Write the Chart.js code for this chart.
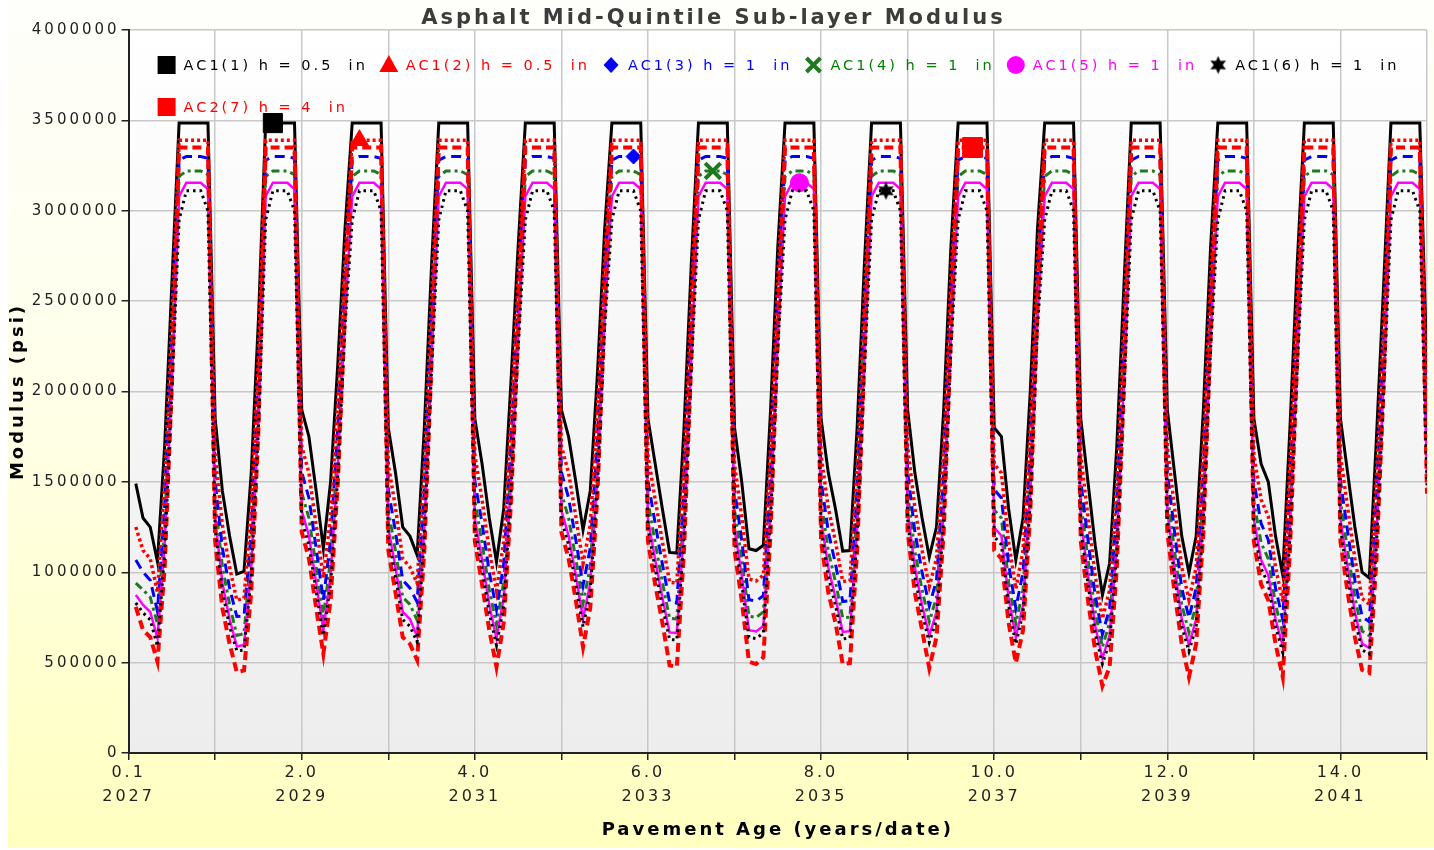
<!DOCTYPE html>
<html>
<head>
<meta charset="utf-8">
<script src="https://cdn.jsdelivr.net/npm/chart.js@4.4.1/dist/chart.umd.min.js"></script>
<style>
  html, body { margin: 0; padding: 0; background: #ffffff; }
  canvas { display: block; }
</style>
</head>
<body>
<canvas id="modulusChart" width="1434" height="850"></canvas>
<script>
// Pavement age in months (one value per month, month 1 .. month 180)
const months = [
  1,2,3,4,5,6,7,8,9,10,11,12,
  13,14,15,16,17,18,19,20,21,22,23,24,
  25,26,27,28,29,30,31,32,33,34,35,36,
  37,38,39,40,41,42,43,44,45,46,47,48,
  49,50,51,52,53,54,55,56,57,58,59,60,
  61,62,63,64,65,66,67,68,69,70,71,72,
  73,74,75,76,77,78,79,80,81,82,83,84,
  85,86,87,88,89,90,91,92,93,94,95,96,
  97,98,99,100,101,102,103,104,105,106,107,108,
  109,110,111,112,113,114,115,116,117,118,119,120,
  121,122,123,124,125,126,127,128,129,130,131,132,
  133,134,135,136,137,138,139,140,141,142,143,144,
  145,146,147,148,149,150,151,152,153,154,155,156,
  157,158,159,160,161,162,163,164,165,166,167,168,
  169,170,171,172,173,174,175,176,177,178,179,180
];

// Axis tick labels (every 24 months): age and calendar year
const ageTickLabels  = ['0.1', '2.0', '4.0', '6.0', '8.0', '10.0', '12.0', '14.0'];
const yearTickLabels = ['2027', '2029', '2031', '2033', '2035', '2037', '2039', '2041'];

const seriesLabels = [
  'AC1(1) h = 0.5  in',
  'AC1(2) h = 0.5  in',
  'AC1(3) h = 1  in',
  'AC1(4) h = 1  in',
  'AC1(5) h = 1  in',
  'AC1(6) h = 1  in',
  'AC2(7) h = 4  in'
];

// Sub-layer modulus (psi), monthly
const ac1_1 = [
  1490000,1300000,1250000,1058000,1700000,2600000,3485000,3485000,3485000,3485000,3485000,1850000,
  1450000,1200000,990000,1005000,1550000,2400000,3485000,3485000,3485000,3485000,3485000,1900000,
  1750000,1450000,1132000,1500000,2150000,2900000,3485000,3485000,3485000,3485000,3485000,1800000,
  1550000,1250000,1200000,1095000,1800000,2700000,3485000,3485000,3485000,3485000,3485000,1850000,
  1600000,1300000,1057000,1350000,2050000,2800000,3485000,3485000,3485000,3485000,3485000,1900000,
  1750000,1500000,1234000,1450000,2100000,2900000,3485000,3485000,3485000,3485000,3485000,1850000,
  1600000,1350000,1110000,1106000,1800000,2700000,3485000,3485000,3485000,3485000,3485000,1800000,
  1500000,1130000,1120000,1150000,1900000,2800000,3485000,3485000,3485000,3485000,3485000,1850000,
  1550000,1350000,1117000,1120000,1800000,2700000,3485000,3485000,3485000,3485000,3485000,1900000,
  1550000,1300000,1084000,1250000,1900000,2800000,3485000,3485000,3485000,3485000,3485000,1800000,
  1750000,1350000,1068000,1300000,2000000,2900000,3485000,3485000,3485000,3485000,3485000,1850000,
  1500000,1150000,874000,1050000,1700000,2600000,3485000,3485000,3485000,3485000,3485000,1900000,
  1550000,1200000,996000,1200000,1900000,2800000,3485000,3485000,3485000,3485000,3485000,1850000,
  1600000,1500000,1200000,985000,1800000,2700000,3485000,3485000,3485000,3485000,3485000,1850000,
  1550000,1250000,1000000,968000,1750000,2600000,3485000,3485000,3485000,3485000,3485000,2100000
];

const ac1_2 = [
  1250000,1121000,1075000,890000,1499000,2413000,3390000,3390000,3390000,3390000,3390000,1647000,
  1261000,1028000,845000,856000,1356000,2203000,3390000,3390000,3390000,3390000,3390000,1697000,
  1549000,1261000,970000,1308000,1946000,2735000,3390000,3390000,3390000,3390000,3390000,1598000,
  1356000,1075000,1028000,940000,1598000,2519000,3390000,3390000,3390000,3390000,3390000,1647000,
  1403000,1121000,898000,1168000,1845000,2626000,3390000,3390000,3390000,3390000,3390000,1697000,
  1549000,1308000,1049000,1261000,1896000,2735000,3390000,3390000,3390000,3390000,3390000,1647000,
  1403000,1168000,945000,940000,1598000,2519000,3390000,3390000,3390000,3390000,3390000,1598000,
  1308000,962000,952000,983000,1697000,2626000,3390000,3390000,3390000,3390000,3390000,1647000,
  1356000,1168000,949000,953000,1598000,2519000,3390000,3390000,3390000,3390000,3390000,1697000,
  1356000,1121000,921000,1075000,1697000,2626000,3390000,3390000,3390000,3390000,3390000,1598000,
  1549000,1168000,908000,1121000,1796000,2735000,3390000,3390000,3390000,3390000,3390000,1647000,
  1308000,983000,743000,901000,1499000,2413000,3390000,3390000,3390000,3390000,3390000,1697000,
  1356000,1028000,847000,1028000,1697000,2626000,3390000,3390000,3390000,3390000,3390000,1647000,
  1403000,1308000,1028000,837000,1598000,2519000,3390000,3390000,3390000,3390000,3390000,1647000,
  1356000,1075000,855000,823000,1549000,2413000,3390000,3390000,3390000,3390000,3390000,1896000
];

const ac1_3 = [
  1068000,1001000,956000,785000,1363000,2275000,3280000,3300000,3300000,3300000,3290000,1506000,
  1134000,913000,755000,758000,1225000,2062000,3280000,3300000,3300000,3300000,3290000,1554000,
  1411000,1134000,846000,1179000,1802000,2610000,3280000,3300000,3300000,3300000,3290000,1458000,
  1225000,956000,913000,835000,1458000,2384000,3280000,3300000,3300000,3300000,3290000,1506000,
  1270000,1001000,793000,1045000,1702000,2495000,3280000,3300000,3300000,3300000,3290000,1554000,
  1411000,1179000,926000,1134000,1754000,2610000,3280000,3300000,3300000,3300000,3290000,1506000,
  1270000,1045000,834000,830000,1458000,2384000,3280000,3300000,3300000,3300000,3290000,1458000,
  1179000,848000,840000,871000,1554000,2495000,3280000,3300000,3300000,3300000,3290000,1506000,
  1225000,1045000,838000,842000,1458000,2384000,3280000,3300000,3300000,3300000,3290000,1554000,
  1225000,1001000,813000,956000,1554000,2495000,3280000,3300000,3300000,3300000,3290000,1458000,
  1411000,1045000,801000,1001000,1652000,2610000,3280000,3300000,3300000,3300000,3290000,1506000,
  1179000,871000,656000,801000,1363000,2275000,3280000,3300000,3300000,3300000,3290000,1554000,
  1225000,913000,747000,913000,1554000,2495000,3280000,3300000,3300000,3300000,3290000,1506000,
  1270000,1179000,913000,739000,1458000,2384000,3280000,3300000,3300000,3300000,3290000,1506000,
  1225000,956000,755000,726000,1411000,2275000,3280000,3300000,3300000,3300000,3290000,1754000
];

const ac1_4 = [
  940000,903000,862000,715000,1253000,2161000,3190000,3220000,3220000,3220000,3200000,1393000,
  1031000,822000,650000,660000,1118000,1944000,3190000,3220000,3220000,3220000,3200000,1440000,
  1299000,1031000,752000,1074000,1686000,2503000,3190000,3220000,3220000,3220000,3200000,1345000,
  1118000,862000,822000,735000,1345000,2273000,3190000,3220000,3220000,3220000,3200000,1393000,
  1163000,903000,708000,945000,1587000,2386000,3190000,3220000,3220000,3220000,3200000,1440000,
  1299000,1074000,827000,1031000,1636000,2503000,3190000,3220000,3220000,3220000,3200000,1393000,
  1163000,945000,745000,741000,1345000,2273000,3190000,3220000,3220000,3220000,3200000,1345000,
  1074000,757000,750000,781000,1440000,2386000,3190000,3220000,3220000,3220000,3200000,1393000,
  1118000,945000,748000,752000,1345000,2273000,3190000,3220000,3220000,3220000,3200000,1440000,
  1118000,903000,726000,862000,1440000,2386000,3190000,3220000,3220000,3220000,3200000,1345000,
  1299000,945000,716000,903000,1538000,2503000,3190000,3220000,3220000,3220000,3200000,1393000,
  1074000,781000,586000,721000,1253000,2161000,3190000,3220000,3220000,3220000,3200000,1440000,
  1118000,822000,667000,822000,1440000,2386000,3190000,3220000,3220000,3220000,3200000,1393000,
  1163000,1074000,822000,660000,1345000,2273000,3190000,3220000,3220000,3220000,3200000,1393000,
  1118000,862000,675000,649000,1299000,2161000,3190000,3220000,3220000,3220000,3200000,1636000
];

const ac1_5 = [
  874000,819000,780000,636000,1158000,2064000,3080000,3155000,3155000,3155000,3120000,1294000,
  941000,741000,590000,598000,1026000,1846000,3080000,3155000,3155000,3155000,3120000,1341000,
  1202000,941000,680000,983000,1585000,2410000,3080000,3155000,3155000,3155000,3120000,1247000,
  1026000,780000,741000,645000,1247000,2176000,3080000,3155000,3155000,3155000,3120000,1294000,
  1069000,819000,634000,859000,1484000,2293000,3080000,3155000,3155000,3155000,3120000,1341000,
  1202000,983000,740000,941000,1535000,2410000,3080000,3155000,3155000,3155000,3120000,1294000,
  1069000,859000,667000,664000,1247000,2176000,3080000,3155000,3155000,3155000,3120000,1247000,
  983000,679000,672000,703000,1341000,2293000,3080000,3155000,3155000,3155000,3120000,1294000,
  1026000,859000,670000,674000,1247000,2176000,3080000,3155000,3155000,3155000,3120000,1341000,
  1026000,819000,650000,780000,1341000,2293000,3080000,3155000,3155000,3155000,3120000,1247000,
  1202000,859000,641000,819000,1436000,2410000,3080000,3155000,3155000,3155000,3120000,1294000,
  983000,703000,524000,651000,1158000,2064000,3080000,3155000,3155000,3155000,3120000,1341000,
  1026000,741000,598000,741000,1341000,2293000,3080000,3155000,3155000,3155000,3120000,1294000,
  1069000,983000,741000,591000,1247000,2176000,3080000,3155000,3155000,3155000,3120000,1294000,
  1026000,780000,605000,581000,1202000,2064000,3080000,3155000,3155000,3155000,3120000,1535000
];

const ac1_6 = [
  830000,776000,738000,590000,1107000,2010000,2950000,3110000,3110000,3110000,3000000,1243000,
  896000,701000,565000,570000,978000,1790000,2950000,3110000,3110000,3110000,3000000,1288000,
  1152000,896000,650000,936000,1531000,2358000,2950000,3110000,3110000,3110000,3000000,1197000,
  978000,738000,701000,615000,1197000,2122000,2950000,3110000,3110000,3110000,3000000,1243000,
  1021000,776000,597000,815000,1431000,2237000,2950000,3110000,3110000,3110000,3000000,1288000,
  1152000,936000,697000,896000,1481000,2358000,2950000,3110000,3110000,3110000,3000000,1243000,
  1021000,815000,628000,625000,1197000,2122000,2950000,3110000,3110000,3110000,3000000,1197000,
  936000,639000,633000,664000,1288000,2237000,2950000,3110000,3110000,3110000,3000000,1243000,
  978000,815000,631000,636000,1197000,2122000,2950000,3110000,3110000,3110000,3000000,1288000,
  978000,776000,612000,738000,1288000,2237000,2950000,3110000,3110000,3110000,3000000,1197000,
  1152000,815000,603000,776000,1384000,2358000,2950000,3110000,3110000,3110000,3000000,1243000,
  936000,664000,494000,616000,1107000,2010000,2950000,3110000,3110000,3110000,3000000,1288000,
  978000,701000,563000,701000,1288000,2237000,2950000,3110000,3110000,3110000,3000000,1243000,
  1021000,936000,701000,557000,1197000,2122000,2950000,3110000,3110000,3110000,3000000,1243000,
  978000,738000,570000,547000,1152000,2010000,2950000,3110000,3110000,3110000,3000000,1481000
];

const ac2_7 = [
  808000,680000,641000,505000,1025000,2038000,3350000,3350000,3350000,3350000,3350000,1171000,
  802000,604000,448000,457000,888000,1786000,3350000,3350000,3350000,3350000,3350000,1222000,
  1075000,802000,548000,845000,1490000,2448000,3350000,3350000,3350000,3350000,3350000,1121000,
  888000,641000,604000,514000,1121000,2171000,3350000,3350000,3350000,3350000,3350000,1171000,
  933000,680000,476000,720000,1380000,2304000,3350000,3350000,3350000,3350000,3350000,1222000,
  1075000,845000,586000,802000,1434000,2448000,3350000,3350000,3350000,3350000,3350000,1171000,
  933000,720000,485000,476000,1121000,2171000,3350000,3350000,3350000,3350000,3350000,1121000,
  845000,505000,492000,530000,1222000,2304000,3350000,3350000,3350000,3350000,3350000,1171000,
  888000,720000,492000,498000,1121000,2171000,3350000,3350000,3350000,3350000,3350000,1222000,
  888000,680000,470000,641000,1222000,2304000,3350000,3350000,3350000,3350000,3350000,1121000,
  1075000,720000,498000,680000,1328000,2448000,3350000,3350000,3350000,3350000,3350000,1171000,
  845000,567000,371000,476000,1025000,2038000,3350000,3350000,3350000,3350000,3350000,1222000,
  888000,604000,420000,604000,1222000,2304000,3350000,3350000,3350000,3350000,3350000,1171000,
  933000,845000,604000,420000,1121000,2171000,3350000,3350000,3350000,3350000,3350000,1171000,
  888000,641000,460000,443000,1075000,2038000,3350000,3350000,3350000,3350000,3350000,1434000
];

// Month index (0-based) where each series carries its identifying marker
const markerAt = [19, 31, 69, 80, 92, 104, 116];

const FONT = '"DejaVu Sans", Verdana, sans-serif';
const SPACING = '3px';

// Filled star glyph used as a point style
function makeStar(size, color) {
  const c = document.createElement('canvas');
  c.width = size; c.height = size;
  const g = c.getContext('2d');
  const cx = size / 2, cy = size / 2, ro = size / 2 - 0.5, ri = ro * 0.5;
  g.beginPath();
  for (let k = 0; k < 12; k++) {
    const r = k % 2 === 0 ? ro : ri;
    const a = -Math.PI / 2 + k * Math.PI / 6;
    const px = cx + r * Math.cos(a), py = cy + r * Math.sin(a);
    if (k === 0) g.moveTo(px, py); else g.lineTo(px, py);
  }
  g.closePath();
  g.fillStyle = color;
  g.fill();
  return c;
}
const starImg = makeStar(19, '#000000');

const seriesStyle = [
  { data: ac1_1, color: '#000000', text: '#000000', width: 3,   dash: [],            point: 'rect',     r: 13.5, order: 6 },
  { data: ac1_2, color: '#ff0000', text: '#ff0000', width: 3.5, dash: [3, 3],        point: 'triangle', r: 10.5, order: 2 },
  { data: ac1_3, color: '#0000ff', text: '#0000ff', width: 3,   dash: [10, 6],       point: 'rectRot',  r: 7.5,  order: 4 },
  { data: ac1_4, color: '#1f7a1f', text: '#008000', width: 3,   dash: [8, 4, 3, 4],  point: 'crossRot', r: 11,   order: 5 },
  { data: ac1_5, color: '#ff00ff', text: '#ff00ff', width: 2.5, dash: [],            point: 'circle',   r: 9,    order: 3 },
  { data: ac1_6, color: '#000000', text: '#000000', width: 3,   dash: [2.5, 4],      point: starImg,    r: 9,    order: 0 },
  { data: ac2_7, color: '#ff0000', text: '#ff0000', width: 4,   dash: [9, 5],        point: 'rect',     r: 14,   order: 1 }
];

const datasets = seriesStyle.map((s, i) => ({
  label: seriesLabels[i],
  data: s.data,
  borderColor: s.color,
  backgroundColor: s.color,
  borderWidth: s.width,
  borderDash: s.dash,
  tension: 0,
  fill: false,
  order: s.order,
  pointStyle: s.point,
  pointBackgroundColor: s.color,
  pointBorderColor: s.color,
  pointBorderWidth: s.point === 'crossRot' ? 4 : 1,
  pointRadius: ctx => (ctx.dataIndex === markerAt[i] ? s.r : 0),
  pointHoverRadius: ctx => (ctx.dataIndex === markerAt[i] ? s.r : 0),
  pointHitRadius: 0
}));

// Page and plot-area backgrounds
const backdrop = {
  id: 'backdrop',
  beforeDraw(chart) {
    const ctx = chart.ctx;
    const w = chart.width, h = chart.height;
    ctx.save();
    ctx.fillStyle = '#ffffff';
    ctx.fillRect(0, 0, w, h);
    const g = ctx.createLinearGradient(0, 0, 0, h);
    g.addColorStop(0, '#fefefb');
    g.addColorStop(0.45, '#ffffea');
    g.addColorStop(1, '#ffffc0');
    ctx.fillStyle = g;
    ctx.fillRect(8, 0, w - 8, h - 2);
    const a = chart.chartArea;
    const g2 = ctx.createLinearGradient(0, a.top, 0, a.bottom);
    g2.addColorStop(0, '#ffffff');
    g2.addColorStop(1, '#ededed');
    ctx.fillStyle = g2;
    ctx.fillRect(a.left, a.top, a.right - a.left, a.bottom - a.top);
    ctx.restore();
    ctx.letterSpacing = SPACING;
  }
};

// Wide letter spacing for all chart text
const spacing = {
  id: 'spacing',
  beforeLayout(chart) { chart.ctx.letterSpacing = SPACING; },
  beforeDraw(chart) { chart.ctx.letterSpacing = SPACING; }
};

function drawLegendMarker(ctx, style, cx, cy, color) {
  ctx.save();
  ctx.fillStyle = color;
  ctx.strokeStyle = color;
  ctx.setLineDash([]);
  if (style === 'rect') {
    ctx.fillRect(cx - 9, cy - 9, 18, 18);
  } else if (style === 'triangle') {
    ctx.beginPath();
    ctx.moveTo(cx, cy - 10);
    ctx.lineTo(cx + 9.5, cy + 7);
    ctx.lineTo(cx - 9.5, cy + 7);
    ctx.closePath();
    ctx.fill();
  } else if (style === 'rectRot') {
    ctx.beginPath();
    ctx.moveTo(cx, cy - 8);
    ctx.lineTo(cx + 7.5, cy);
    ctx.lineTo(cx, cy + 8);
    ctx.lineTo(cx - 7.5, cy);
    ctx.closePath();
    ctx.fill();
  } else if (style === 'crossRot') {
    ctx.lineWidth = 4;
    ctx.beginPath();
    ctx.moveTo(cx - 7, cy - 7); ctx.lineTo(cx + 7, cy + 7);
    ctx.moveTo(cx + 7, cy - 7); ctx.lineTo(cx - 7, cy + 7);
    ctx.stroke();
  } else if (style === 'circle') {
    ctx.beginPath();
    ctx.arc(cx, cy, 9, 0, Math.PI * 2);
    ctx.fill();
  } else if (style && style.width) {
    ctx.drawImage(style, cx - style.width / 2, cy - style.height / 2);
  }
  ctx.restore();
}

// Legend laid out inside the top of the plot area
const innerLegend = {
  id: 'innerLegend',
  beforeDatasetsDraw(chart) {
    const ctx = chart.ctx;
    const a = chart.chartArea;
    ctx.save();
    ctx.font = '14.5px ' + FONT;
    ctx.letterSpacing = SPACING;
    ctx.textBaseline = 'middle';
    ctx.textAlign = 'left';
    const startX = a.left + 29;
    let x = startX;
    let y = a.top + 35;
    chart.data.datasets.forEach((ds, i) => {
      const tw = ctx.measureText(ds.label).width;
      const itemW = 17 + tw;
      if (x + itemW > a.right - 8) { x = startX; y += 42; }
      drawLegendMarker(ctx, seriesStyle[i].point, x + 9, y, seriesStyle[i].color);
      ctx.fillStyle = seriesStyle[i].text;
      ctx.fillText(ds.label, x + 26, y + 1);
      x += 26 + tw + 12;
    });
    ctx.restore();
  }
};

const gridColor = '#c8c8c8';

new Chart(document.getElementById('modulusChart'), {
  type: 'line',
  data: { labels: months, datasets },
  options: {
    responsive: false,
    animation: false,
    devicePixelRatio: 1,
    layout: { padding: { left: 0, right: 7, top: 0, bottom: 0 } },
    plugins: {
      legend: { display: false },
      tooltip: { enabled: false },
      title: {
        display: true,
        text: 'Asphalt Mid-Quintile Sub-layer Modulus',
        color: '#3c3c3c',
        font: { family: FONT, size: 21, weight: 'bold', lineHeight: 1.1 },
        padding: { top: 6.5, bottom: 0.4 }
      }
    },
    scales: {
      x: {
        type: 'linear',
        min: 0,
        max: 180,
        ticks: {
          stepSize: 12,
          autoSkip: false,
          maxRotation: 0,
          color: '#222222',
          padding: 1,
          font: { family: FONT, size: 16, lineHeight: 1.5 },
          callback: v => (v % 24 === 0 ? [ageTickLabels[v / 24], yearTickLabels[v / 24]] : '')
        },
        grid: { color: gridColor, lineWidth: 1.5, tickLength: 7, tickColor: '#222222', tickWidth: 1.5 },
        border: { color: '#222222', width: 2 },
        title: {
          display: true,
          text: 'Pavement Age (years/date)',
          color: '#000000',
          font: { family: FONT, size: 18, weight: 'bold', lineHeight: 1.2 },
          padding: { top: 0, bottom: 9.2 }
        },
        afterFit(scale) { scale.height = 97; }
      },
      y: {
        min: 0,
        max: 4000000,
        ticks: {
          stepSize: 500000,
          color: '#222222',
          padding: 2,
          font: { family: FONT, size: 15 },
          callback: v => String(v)
        },
        grid: { color: gridColor, lineWidth: 1.5, tickLength: 7, tickColor: '#222222', tickWidth: 1.5 },
        border: { color: '#222222', width: 2 },
        title: {
          display: true,
          text: 'Modulus (psi)',
          color: '#000000',
          font: { family: FONT, size: 18, weight: 'bold', lineHeight: 1.2 },
          padding: { top: 7.2, bottom: 0 }
        },
        afterFit(scale) { scale.width = 128.6; }
      }
    }
  },
  plugins: [backdrop, spacing, innerLegend]
});
</script>
</body>
</html>
